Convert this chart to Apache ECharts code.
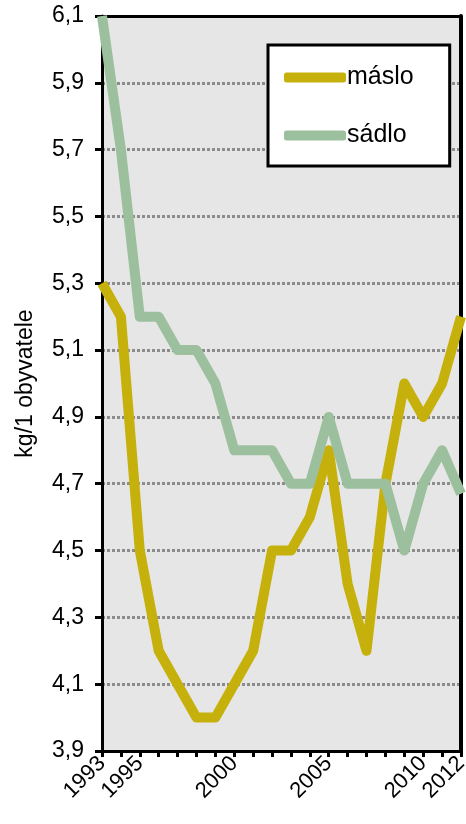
<!DOCTYPE html>
<html lang="cs">
<head>
    <meta charset="UTF-8">
    <title>máslo a sádlo</title>
    <script src="https://cdn.jsdelivr.net/npm/echarts@6/dist/echarts.min.js"></script>
    <style>
        body { margin: 0; background: #fff; }
    </style>
</head>
<body>
    <div id="main" style="width: 466px; height: 824px;"></div>

    <script>
        // years on the x axis
        var years = [];
        for (var y = 1993; y <= 2012; y++) years.push(String(y));
        // which year labels are shown
        var shownYears = ['1993', '1995', '2000', '2005', '2010', '2012'];

        // consumption in kg per inhabitant
        var maslo = [5.3, 5.2, 4.5, 4.2, 4.1, 4.0, 4.0, 4.1, 4.2, 4.5,
                     4.5, 4.6, 4.8, 4.4, 4.2, 4.7, 5.0, 4.9, 5.0, 5.2];
        var sadlo = [6.1, 5.7, 5.2, 5.2, 5.1, 5.1, 5.0, 4.8, 4.8, 4.8,
                     4.7, 4.7, 4.9, 4.7, 4.7, 4.7, 4.5, 4.7, 4.8, 4.67];

        var chart = echarts.init(document.getElementById('main'));

        var font = '"Liberation Sans", Arial, sans-serif';
        var black = { color: '#000', width: 3 };

        var option = {
            animation: false,
            grid: {
                left: 102,
                right: 5,
                top: 16,
                bottom: 73,
                show: true,
                backgroundColor: '#e6e6e6',
                borderWidth: 0,
                outerBoundsMode: 'none'
            },
            legend: {
                left: 268,
                top: 45,
                orient: 'vertical',
                backgroundColor: '#fff',
                borderColor: '#000',
                borderWidth: 3,
                padding: [20, 36, 18, 16],
                itemWidth: 62,
                itemHeight: 10,
                itemGap: 33,
                icon: 'roundRect',
                textStyle: {
                    fontFamily: font,
                    fontSize: 25,
                    color: '#000',
                    lineHeight: 25,
                    padding: [0, 0, 0, -4]
                },
                data: ['máslo', 'sádlo']
            },
            xAxis: [
                {
                    type: 'category',
                    data: years,
                    boundaryGap: false,
                    axisLine: { lineStyle: black },
                    axisTick: { interval: 0, length: 6, lineStyle: black },
                    axisLabel: {
                        interval: function (index, value) {
                            return shownYears.indexOf(value) !== -1;
                        },
                        rotate: 45,
                        margin: 9,
                        fontFamily: font,
                        fontSize: 22,
                        color: '#000'
                    },
                    splitLine: { show: false }
                },
                {
                    // top frame
                    type: 'category',
                    position: 'top',
                    data: years,
                    boundaryGap: false,
                    axisLine: { lineStyle: black },
                    axisTick: { show: false },
                    axisLabel: { show: false }
                }
            ],
            yAxis: [
                {
                    type: 'value',
                    min: 3.9,
                    max: 6.1,
                    interval: 0.2,
                    name: 'kg/1 obyvatele',
                    nameLocation: 'middle',
                    nameGap: 65,
                    nameMoveOverlap: false,
                    nameTextStyle: { fontFamily: font, fontSize: 23, color: '#000' },
                    axisLine: { show: true, lineStyle: black },
                    axisTick: { show: true, length: 7, lineStyle: black },
                    axisLabel: {
                        margin: 18,
                        fontFamily: font,
                        fontSize: 23,
                        color: '#000',
                        formatter: function (v) {
                            return v.toFixed(1).replace('.', ',');
                        }
                    },
                    splitLine: {
                        lineStyle: { color: '#8c8c8c', width: 3, type: [3, 2] }
                    }
                },
                {
                    // right frame
                    type: 'value',
                    position: 'right',
                    min: 3.9,
                    max: 6.1,
                    interval: 0.2,
                    axisLine: { show: true, lineStyle: { color: '#000', width: 4 } },
                    axisTick: { show: false },
                    axisLabel: { show: false },
                    splitLine: { show: false }
                }
            ],
            series: [
                {
                    name: 'máslo',
                    type: 'line',
                    data: maslo,
                    symbol: 'none',
                    color: '#c6b10c',
                    lineStyle: { width: 10, join: 'round' }
                },
                {
                    name: 'sádlo',
                    type: 'line',
                    data: sadlo,
                    symbol: 'none',
                    color: '#9cc09e',
                    lineStyle: { width: 10, join: 'round' }
                }
            ]
        };

        chart.setOption(option);
    </script>
</body>
</html>
